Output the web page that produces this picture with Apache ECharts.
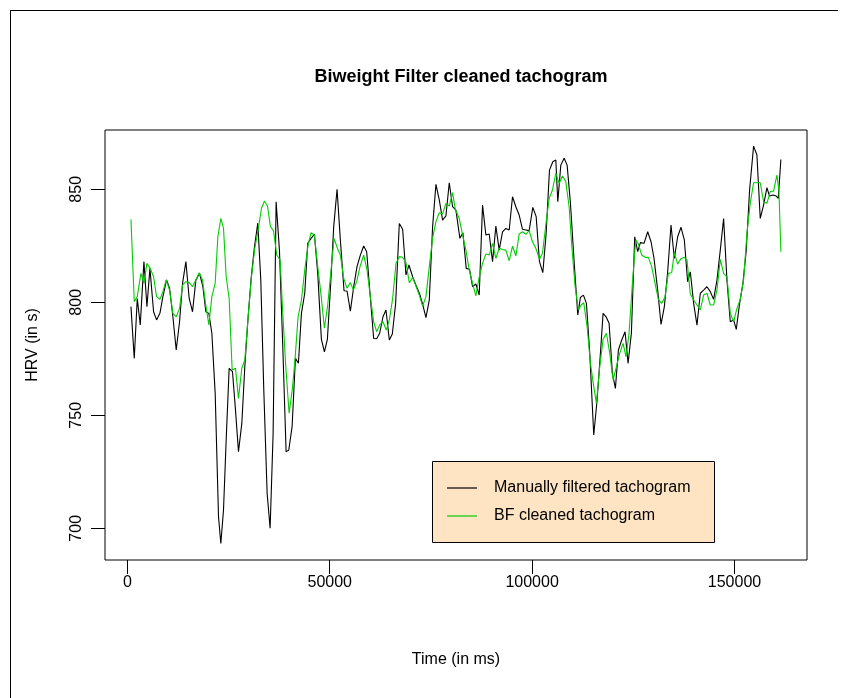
<!DOCTYPE html>
<html>
<head>
<meta charset="utf-8">
<script src="https://cdn.jsdelivr.net/npm/echarts@6/dist/echarts.min.js"></script>
<style>
html,body{margin:0;padding:0;background:#fff;}
#chart{width:848px;height:698px;}
</style>
</head>
<body>
<div id="chart"></div>
<script>
// ---- data (time in ms, HRV values) ----
var manualTime = [881,1703,2444,3184,4089,4830,5570,6475,7215,8038,8779,9683,10424,11246,12069,12892,13632,14455,15278,16100,16923,17828,18651,19391,20132,20872,21695,22518,23093,23751,24409,25149,25972,26713,27453,28276,29016,29839,30579,31402,32225,32965,33706,34528,35269,36009,36750,37572,38395,39218,39876,40699,41521,42262,43002,43825,44565,45388,46211,47033,47938,48679,49419,50242,50982,51805,52627,53531,54272,55095,55917,56740,57563,58385,59126,59948,60854,61594,62335,63157,63898,64720,65461,66283,67188,68011,68834,69574,70479,71384,72207,72947,73770,74593,75415,76238,77060,77883,78706,79529,80351,81172,82159,82900,83723,84545,85286,86108,86931,87754,88576,89399,90222,91045,91867,92690,93513,94335,95158,95981,96803,97626,98449,99271,100176,100999,101822,102644,103467,104290,105112,105853,106347,107087,107910,108650,109472,110459,111282,111940,112681,113421,114244,115231,116054,116876,117535,118275,119015,119838,120579,121319,122142,122964,123705,124528,125350,126091,126749,127654,128559,129381,130122,131027,131850,132672,133495,134318,135140,135963,136786,137608,138430,139088,139911,140734,141557,142379,143202,144025,144847,145670,146493,147315,148138,148961,149784,150442,151264,152087,152910,153732,154720,155542,156365,157188,158010,158669,159491,160314,160808,161466];
var manualHRV = [798.1,775.2,801.7,790,818,798,815,795.8,792.2,795.1,802.5,809.9,806.2,793.6,778.9,791.4,808.4,818,801.7,795.8,809.9,812.8,806.9,795.8,795.1,786.3,759.7,705.1,693.3,708.1,739.1,770.8,769.3,752.3,733.9,746.4,771.5,793.6,810.6,824.6,835,809.8,761.2,715.5,700,742,844.5,823.1,780.4,733.9,734.6,745,775.2,773,795.1,804,826.1,828.3,830.1,812.8,783.6,778.1,783.6,808.4,833.5,850,827.5,805.1,805,796.1,806.9,815.8,820.9,824.9,822.4,804,784,783.9,786.3,793.6,796.6,783.3,786,799.5,834.9,832.3,812.1,816.5,811.3,807.2,803.7,799.2,793.2,801,833.5,852.2,845.3,836.4,838.2,852.9,842.3,840.8,828.3,830.8,815,814.6,806.9,808.1,803.2,843,829.8,830.2,818,833.7,823.1,831.2,832.7,832,846.7,842.3,838.6,832.3,832,831.7,842,837.9,818,813.1,830.5,858.5,862.2,863,844.5,860.7,863.7,860.7,843.8,815.8,794.4,802.2,803.2,799.5,777.4,741.3,756.8,777.4,795.1,793.6,790.7,768.6,761.9,778.9,783.3,787,773,786.3,829,822.4,826.4,826.1,831.2,826.8,819.4,805.4,790.2,798.1,813.5,834.2,819.4,829,833.2,827.6,809.1,813.5,799.5,789.9,804,805.4,806.9,804.7,801.3,809.8,823.1,837.1,809.8,791.4,792.2,788,799.5,808.4,823.1,849.7,869.1,865.2,837.1,843,850.7,847,847.5,847,846,863.2];

var bfTime = [881,1703,2444,3349,4089,4830,5652,6475,7215,8038,8779,9601,10424,11246,12069,12892,13632,14455,15278,16100,16923,17746,18569,19309,20132,20872,21695,22353,23093,23751,24409,25149,25890,26713,27453,28276,29016,29839,30661,31484,32307,33130,33870,34611,35351,36092,36914,37737,38395,39135,39958,40781,41439,42180,43002,43825,44648,45388,46211,47033,47856,48679,49501,50324,51064,51887,52627,53449,54272,55095,55835,56658,57480,58385,59208,60031,60854,61594,62335,63157,63980,64720,65543,66365,67188,68011,68834,69656,70479,71302,72124,72947,73770,74593,75415,76238,77060,77883,78706,79529,80351,81009,81995,82818,83640,84463,85286,86108,86931,87754,88576,89399,90222,91045,91867,92690,93513,94335,95158,95981,96803,97626,98449,99271,100094,100917,101822,102562,103385,104208,105030,105853,106676,107498,108321,109143,109801,110624,111447,112105,112763,113586,114408,115231,115889,116712,117535,118357,119180,120003,120826,121648,122471,123211,123952,124775,125597,126255,127078,127901,128723,129546,130369,131192,132014,132837,133660,134482,135140,135963,136786,137608,138266,139088,139911,140734,141557,142379,143202,144025,144847,145670,146493,147315,148138,148961,149784,150607,151430,152252,153075,153897,154720,155542,156365,157188,158010,158833,159655,160478,160972,161466];
var bfHRV = [836.7,800.3,802.5,812.8,808.4,817.2,815,811.3,802.5,801.3,804.7,809.9,805.4,795.1,793.6,797.3,807.6,809.1,808.7,806.9,809.9,813.1,809.9,799.5,790,802.5,808.4,829,837.1,832.7,811.3,801.7,770,770.8,757.5,770.8,774.5,793.6,811.3,823.9,832,841.6,844.8,842.6,833.5,831.7,820.9,818.7,795.1,771.5,750.9,761.9,775.2,793.6,801,814.3,825.3,830.8,829.8,815.8,803.2,788.5,798.8,814.3,828.3,823.9,820.9,810.6,806.2,808.7,805.4,809.1,815.8,820.9,814.3,802.5,791.4,787,790,791.4,787.7,792.2,801.7,817.2,820.2,819.9,817.5,808.7,811,807.2,803.2,798.3,802.5,815.8,828.3,835.7,839.6,839.1,843.8,842.6,848.5,841.2,837.1,829.8,823.1,814.3,808.4,802.8,811.3,817.2,821.4,820.9,826.1,819.4,823.9,823.4,823.1,818.4,824.9,820.5,830.2,831.2,830.1,831.7,826.8,823.9,819,821.7,834.2,846,849.7,857.1,852.6,855.9,853.4,842.3,825,806.9,796.6,798.8,799.8,789.2,773,762.7,755.3,771.5,783.6,786.3,777.4,765.6,771.5,777.4,781.8,775.9,786.3,808.4,827.6,825.8,820.9,819.9,819.9,815.8,808.4,801.3,799.5,802.5,812.8,813.1,822,816.9,819.4,819.9,818.7,803.7,801,798.8,796.6,803.2,804,798.8,798.8,805.4,819,812.8,811.3,795.1,791.4,797.3,801.3,809.9,830.5,843.8,852.9,852.9,852.9,844.5,843.8,849,849.2,856.3,849.7,822.4];

var xTicks = [0, 50000, 100000, 150000];
var yTicks = [700, 750, 800, 850];
var seriesNames = ['Manually filtered tachogram', 'BF cleaned tachogram'];
var titleText = 'Biweight Filter cleaned tachogram';
var xTitle = 'Time (in ms)';
var yTitle = 'HRV (in s)';

function pairs(t, v) { return t.map(function (x, i) { return [x, v[i]]; }); }

var FONT = '"Liberation Sans", Arial, Helvetica, sans-serif';
var chart = echarts.init(document.getElementById('chart'), null, {renderer: 'canvas'});

var legX = 432, legY = 461, legW = 282, legH = 81;

chart.setOption({
  animation: false,
  backgroundColor: '#ffffff',
  title: {
    text: titleText, left: 456, top: 63, textAlign: 'center',
    textStyle: {fontFamily: FONT, fontSize: 18, fontWeight: 'bold', color: '#000'}
  },
  grid: {left: 105, top: 130, right: 41, bottom: 138, show: true, borderColor: '#000', borderWidth: 1, backgroundColor: 'transparent'},
  xAxis: {
    type: 'value', min: -5528, max: 167917,
    axisLine: {show: false, onZero: false},
    splitLine: {show: false},
    axisTick: {show: true, customValues: xTicks, length: 14, lineStyle: {color: '#000', width: 1}},
    axisLabel: {show: true, customValues: xTicks, margin: 15, fontFamily: FONT, fontSize: 16, color: '#000',
      formatter: function (v) { return String(v); }},
    name: xTitle, nameLocation: 'middle', nameGap: 92,
    nameTextStyle: {fontFamily: FONT, fontSize: 16, color: '#000'}
  },
  yAxis: {
    type: 'value', min: 685.97, max: 876.24,
    axisLine: {show: false, onZero: false},
    splitLine: {show: false},
    axisTick: {show: true, customValues: yTicks, length: 14, lineStyle: {color: '#000', width: 1}},
    axisLabel: {show: true, customValues: yTicks, rotate: 90, margin: 20, fontFamily: FONT, fontSize: 16, color: '#000',
      formatter: function (v) { return String(v); }},
    name: yTitle, nameLocation: 'middle', nameGap: 64, nameRotate: 90,
    nameTextStyle: {fontFamily: FONT, fontSize: 16, color: '#000'}
  },
  series: [
    {name: seriesNames[0], type: 'line', data: pairs(manualTime, manualHRV), showSymbol: false, symbol: 'none',
      lineStyle: {color: '#000000', width: 1.1}, z: 2},
    {name: seriesNames[1], type: 'line', data: pairs(bfTime, bfHRV), showSymbol: false, symbol: 'none',
      lineStyle: {color: '#00cd00', width: 1.1}, z: 3}
  ],
  graphic: [
    {type: 'line', shape: {x1: 10.5, y1: 10, x2: 10.5, y2: 698}, style: {stroke: '#000', lineWidth: 1}, silent: true},
    {type: 'line', shape: {x1: 10, y1: 10.5, x2: 838, y2: 10.5}, style: {stroke: '#000', lineWidth: 1}, silent: true},
    {type: 'rect', shape: {x: legX + 0.5, y: legY + 0.5, width: legW, height: legH},
      style: {fill: '#ffe4c4', stroke: '#000', lineWidth: 1}, z: 10, silent: true},
    {type: 'line', shape: {x1: 447, y1: 488, x2: 477, y2: 488}, style: {stroke: '#000', lineWidth: 1.2}, z: 11, silent: true},
    {type: 'line', shape: {x1: 447, y1: 516, x2: 477, y2: 516}, style: {stroke: '#00cd00', lineWidth: 1.2}, z: 11, silent: true},
    {type: 'text', x: 494, y: 488, style: {text: seriesNames[0], font: '16px ' + FONT, fill: '#000', textVerticalAlign: 'middle'}, z: 11, silent: true},
    {type: 'text', x: 494, y: 516, style: {text: seriesNames[1], font: '16px ' + FONT, fill: '#000', textVerticalAlign: 'middle'}, z: 11, silent: true}
  ]
});
</script>
</body>
</html>
